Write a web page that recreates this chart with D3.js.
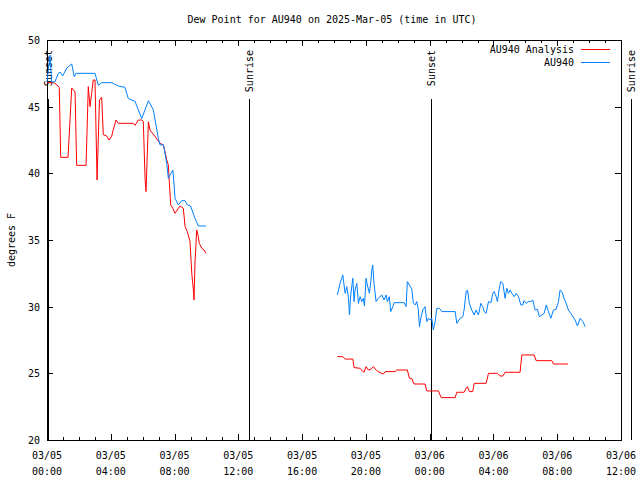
<!DOCTYPE html>
<html><head><meta charset="utf-8">
<script src="https://cdn.jsdelivr.net/npm/d3@7"></script>
<style>
body{margin:0;background:#fff}
svg{display:block}
text{font-family:"DejaVu Sans Mono","Liberation Mono",monospace;font-size:10px;fill:#000}
</style>
</head><body><svg id="c" width="640" height="480"></svg>
<script>
const title = "Dew Point for AU940 on 2025-Mar-05 (time in UTC)";
const yLabel = "degrees F";
const seriesNames = ["AU940 Analysis", "AU940"];
const seriesColors = ["#ff0000", "#0080ff"];
const yTicks = [20, 25, 30, 35, 40, 45, 50];

// hours after 2025-03-05 00:00 UTC
const analysisHours = [0.00,0.36,0.50,0.77,0.86,1.32,1.55,1.76,1.86,2.45,2.59,2.70,2.80,2.90,3.01,3.14,3.29,3.43,3.53,3.75,3.89,4.06,4.16,4.33,4.47,5.41,5.52,5.73,5.94,6.04,6.15,6.21,6.36,6.46,6.78,7.09,7.30,7.40,7.51,7.61,7.67,7.76,7.89,8.03,8.24,8.34,8.55,8.66,8.80,8.97,9.08,9.18,9.22,9.28,9.39,9.49,9.55,9.71,9.85,9.97,
  18.21,18.55,18.70,19.18,19.26,19.64,19.81,19.89,20.01,20.16,20.31,20.47,20.68,20.89,21.10,21.21,21.83,21.94,22.60,22.73,22.88,23.02,23.71,23.82,24.55,24.72,25.60,25.70,26.16,26.29,26.37,26.49,26.70,26.79,27.54,27.69,28.25,28.42,28.59,28.73,29.67,29.78,30.55,30.68,31.66,31.76,32.68];
const analysisValues = [46.8,46.8,46.75,46.45,41.2,41.2,46.4,46.1,40.6,40.6,46.5,45.0,46.0,47.0,47.0,39.5,45.5,45.7,42.9,42.8,42.5,42.8,43.3,44.0,43.75,43.75,43.6,44.0,44.0,43.9,39.63,38.63,43.87,43.25,42.75,42.25,42.13,41.63,41.0,40.63,39.38,37.63,37.38,37.0,37.38,37.55,37.38,36.0,35.63,34.88,32.5,31.25,30.5,33.25,35.75,35.25,34.75,34.38,34.25,34.0,
  26.25,26.25,26.07,26.07,25.43,25.38,25.13,25.1,25.5,25.25,25.3,25.5,25.2,25.05,24.95,25.13,25.13,25.25,25.25,24.63,24.6,24.2,24.2,23.68,23.68,23.18,23.18,23.58,23.58,23.88,24.0,23.63,23.63,24.25,24.25,25.0,25.0,24.8,24.8,25.08,25.08,26.38,26.38,25.95,25.95,25.7,25.7];

const obsHours = [0.00,0.19,0.29,0.50,0.71,0.82,0.98,1.24,1.55,1.71,1.82,3.01,3.22,3.43,4.06,4.47,4.89,5.10,5.52,5.94,6.36,6.67,6.98,7.09,7.30,7.40,7.51,7.61,7.72,7.89,7.97,8.03,8.24,8.45,8.66,8.80,9.00,9.28,9.49,9.97,
  18.21,18.38,18.55,18.63,18.70,18.80,18.90,18.97,19.05,19.18,19.26,19.32,19.43,19.53,19.64,19.74,19.84,19.91,20.01,20.09,20.22,20.31,20.37,20.43,20.51,20.64,20.78,21.00,21.14,21.27,21.35,21.47,21.56,21.69,21.77,22.40,22.52,22.60,22.73,22.88,22.98,23.09,23.19,23.29,23.36,23.44,23.57,23.71,23.82,23.92,24.03,24.13,24.23,24.34,24.45,24.61,24.76,25.60,25.70,25.91,26.08,26.16,26.29,26.37,26.49,26.64,26.79,26.91,27.06,27.21,27.33,27.42,27.54,27.69,27.84,27.96,28.04,28.17,28.25,28.38,28.46,28.59,28.73,28.84,28.94,29.05,29.15,29.30,29.42,29.57,29.72,29.84,29.92,30.05,30.19,30.35,30.47,30.61,30.76,30.88,31.04,31.18,31.31,31.45,31.60,31.76,31.93,32.08,32.18,32.29,32.43,32.56,32.70,32.92,33.12,33.27,33.44,33.61,33.75];
const obsValues = [46.87,48.87,46.87,46.87,47.5,47.6,47.3,47.9,48.2,47.25,47.5,47.5,46.6,46.8,46.8,46.55,46.45,45.6,45.4,44.1,45.45,44.75,42.63,42.13,42.13,41.5,40.75,39.63,39.88,40.25,39.13,38.13,37.63,37.95,37.95,37.63,37.55,36.63,36.05,36.05,
  30.88,31.75,32.38,31.63,31.0,31.5,30.75,29.38,30.88,32.13,30.38,31.25,31.75,30.25,30.75,30.38,30.63,30.05,32.13,31.63,31.0,31.88,32.75,33.13,31.75,30.38,30.63,30.88,30.5,30.88,30.38,30.75,29.63,30.0,30.3,30.3,30.0,31.88,31.63,31.3,30.25,30.13,30.38,29.75,28.5,29.13,29.75,30.0,28.88,29.13,29.0,29.13,28.25,28.88,29.88,29.88,29.63,29.63,28.75,29.13,29.25,29.75,31.13,31.25,30.25,29.75,29.38,29.75,29.38,30.25,30.0,29.63,29.5,30.38,30.3,31.0,31.13,30.75,30.38,31.5,31.88,31.75,30.63,31.38,31.0,31.25,31.0,30.75,31.0,30.75,30.13,30.13,30.45,30.25,30.38,30.38,30.5,29.75,29.8,29.25,29.38,29.5,30.13,29.63,29.13,29.75,29.8,30.38,31.25,31.13,30.63,30.25,29.75,29.38,29.0,28.55,29.13,28.88,28.5];

const sunEventNames = ["Sunset", "Sunrise", "Sunset", "Sunrise"];
const sunEventHours = [0.07, 12.67, 24.09, 36.64];

const startMs = Date.UTC(2025, 2, 5, 0, 0);
const hourMs = 3600 * 1000;
const toDate = h => new Date(startMs + h * hourMs);

const svg = d3.select("#c");
const L = 47, R = 621, T = 40, B = 440;
const x = d3.scaleUtc().domain([toDate(0), toDate(36)]).range([L, R]);
const y = d3.scaleLinear().domain([20, 50]).range([B, T]);

// title
svg.append("text").attr("x", 332).attr("y", 23).attr("text-anchor", "middle").text(title);
// y label
svg.append("text").attr("transform", "translate(15,240) rotate(-90)").attr("text-anchor", "middle").text(yLabel);

// frame
const g = svg.append("g").attr("shape-rendering", "crispEdges");
g.append("rect").attr("x", L + 0.5).attr("y", T + 0.5).attr("width", R - L).attr("height", B - T)
  .attr("fill", "none").attr("stroke", "#000");

// y ticks
yTicks.forEach(v => {
  const yy = Math.round(y(v)) + 0.5;
  g.append("line").attr("x1", L).attr("x2", L + 6).attr("y1", yy).attr("y2", yy).attr("stroke", "#000");
  g.append("line").attr("x1", R).attr("x2", R - 6).attr("y1", yy).attr("y2", yy).attr("stroke", "#000");
  svg.append("text").attr("x", 40).attr("y", y(v) + 4).attr("text-anchor", "end").text(v);
});

// x ticks
const hourTicks = x.ticks(d3.utcHour.every(1));
const fmtD = d3.utcFormat("%m/%d"), fmtH = d3.utcFormat("%H:%M");
hourTicks.forEach(t => {
  const major = t.getUTCHours() % 4 === 0;
  const len = major ? 6 : 3;
  const xx = Math.round(x(t)) + 0.5;
  g.append("line").attr("x1", xx).attr("x2", xx).attr("y1", B).attr("y2", B - len).attr("stroke", "#000");
  g.append("line").attr("x1", xx).attr("x2", xx).attr("y1", T).attr("y2", T + len).attr("stroke", "#000");
  if (major) {
    const tx = svg.append("text").attr("x", x(t)).attr("y", 459).attr("text-anchor", "middle");
    tx.append("tspan").attr("x", x(t)).attr("dy", 0).text(fmtD(t));
    tx.append("tspan").attr("x", x(t)).attr("dy", 16).text(fmtH(t));
  }
});

// sun events
sunEventNames.forEach((name, i) => {
  const xx = Math.round(x(toDate(sunEventHours[i]))) + 0.5;
  g.append("line").attr("x1", xx).attr("x2", xx).attr("y1", 99).attr("y2", B).attr("stroke", "#000");
  svg.append("text").attr("transform", `translate(${xx + 3},50) rotate(-90)`)
    .attr("text-anchor", "end").text(name);
});

// series
function segments(hours, values) {
  const segs = []; let cur = [];
  hours.forEach((h, i) => {
    if (i > 0 && h - hours[i - 1] > 2) { segs.push(cur); cur = []; }
    cur.push({ t: toDate(h), v: values[i] });
  });
  segs.push(cur);
  return segs;
}
const line = d3.line().x(d => x(d.t)).y(d => y(d.v));
[[analysisHours, analysisValues], [obsHours, obsValues]].forEach(([hs, vs], k) => {
  segments(hs, vs).forEach(seg => {
    svg.append("path").attr("d", line(seg)).attr("fill", "none")
      .attr("stroke", seriesColors[k]).attr("stroke-width", 1);
  });
});

// legend
seriesNames.forEach((name, i) => {
  const yy = 49 + i * 13;
  svg.append("text").attr("x", 574).attr("y", yy + 4).attr("text-anchor", "end").text(name);
  g.append("line").attr("x1", 581).attr("x2", 610).attr("y1", yy + 0.5).attr("y2", yy + 0.5)
    .attr("stroke", seriesColors[i]);
});
</script>
</body></html>
